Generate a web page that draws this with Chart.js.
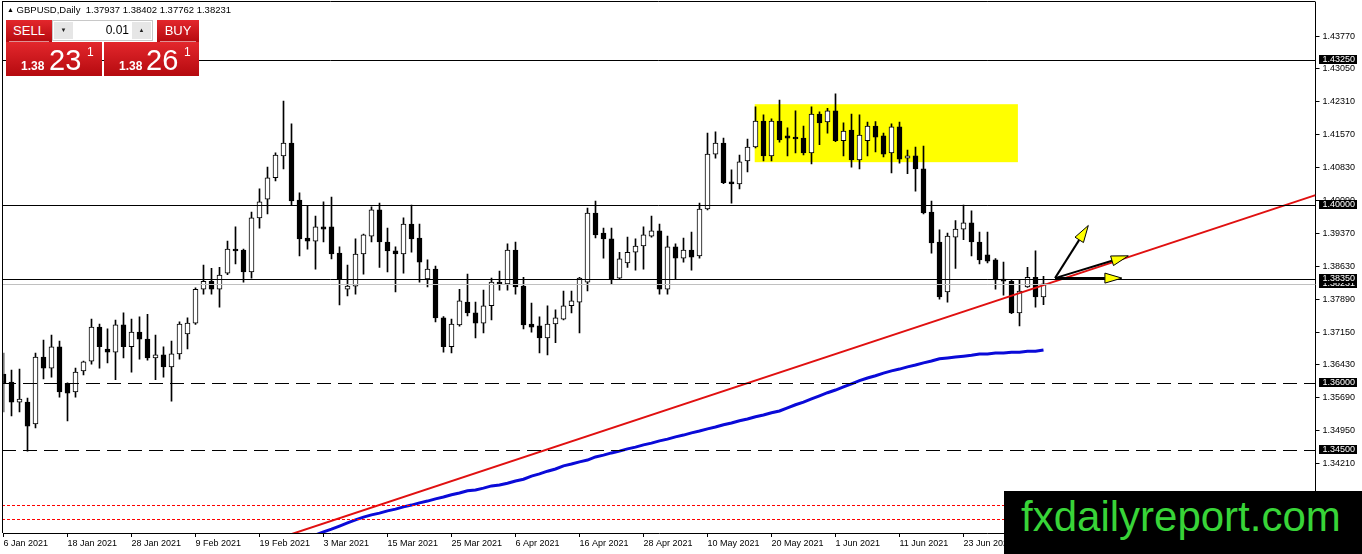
<!DOCTYPE html>
<html>
<head>
<meta charset="utf-8">
<script src="https://cdn.jsdelivr.net/npm/chart.js@4.4.0/dist/chart.umd.min.js"></script>
<style>
body { margin: 0; background: #fff; overflow: hidden; font-family: "Liberation Sans", Arial, sans-serif; }
#wrap { position: relative; width: 1362px; height: 554px; }
#chart { position: absolute; left: 0; top: 0; }
#hdr { position: absolute; left: 7px; top: 4px; font-size: 9.5px; line-height: 12px; color: #000; white-space: pre; }
#hdr .tri { font-size: 7px; vertical-align: 1px; }
.red { position: absolute; background: linear-gradient(#e3272c, #b50a0f); color: #fff; }
.lbl { font-size: 13px; line-height: 22px; text-align: center; height: 22px; top: 20px; }
.lbl .sep { position: absolute; left: 3px; right: 3px; bottom: 0; height: 1px; background: rgba(255,255,255,0.55); }
#sellLbl { left: 6px; width: 46px; }
#buyLbl { left: 157px; width: 42px; }
#spin { position: absolute; left: 52px; top: 20px; width: 101px; height: 21px; background: #fff; border: 1px solid #c8c8c8; box-sizing: border-box; }
#spin .b { position: absolute; top: 1px; width: 19px; height: 17px; background: #e6e6e6; font-size: 6px; line-height: 17px; text-align: center; color: #222; }
#spin .lot { position: absolute; right: 23px; top: 2px; font-size: 12px; line-height: 15px; color: #000; }
.px { top: 42px; width: 96px; height: 34px; }
.px span { position: absolute; white-space: pre; }
.px .sm { font-size: 12px; line-height: 12px; font-weight: bold; top: 18px; left: 15px; }
.px .big { font-size: 29px; line-height: 29px; top: 4px; left: 43px; }
.px .sup { font-size: 12px; line-height: 12px; top: 4px; left: 81px; }
#wm { position: absolute; left: 1004px; top: 491px; width: 358px; height: 63px; background: #000; }
#wm span { position: absolute; left: 17px; top: 5px; font-size: 42px; line-height: 42px; color: #38d438; white-space: pre; }
</style>
</head>
<body>
<div id="wrap">
  <canvas id="chart" width="1362" height="554"></canvas>
  <div id="hdr"><span class="tri">▲</span> GBPUSD,Daily  1.37937 1.38402 1.37762 1.38231</div>
  <div class="red lbl" id="sellLbl">SELL<div class="sep"></div></div>
  <div id="spin"><div class="b" style="left:1px">▼</div><div class="lot">0.01</div><div class="b" style="right:1px">▲</div></div>
  <div class="red lbl" id="buyLbl">BUY<div class="sep"></div></div>
  <div class="red px" style="left:6px"><span class="sm">1.38</span><span class="big">23</span><span class="sup">1</span></div>
  <div class="red px" style="left:104px;width:95px"><span class="sm">1.38</span><span class="big" style="left:42px">26</span><span class="sup" style="left:80px">1</span></div>
  <div id="wm"><span>fxdailyreport.com</span></div>
</div>
<script>
// daily candles, 6 Jan 2021 .. 7 Jul 2021
const opens = [
  1.3621, 1.3603, 1.3558, 1.3558, 1.3509, 1.3659, 1.3634, 1.3682, 1.3600, 1.3581,
  1.3628, 1.3650, 1.3726, 1.3677, 1.3670, 1.3731, 1.3682, 1.3715, 1.3699, 1.3657,
  1.3664, 1.3637, 1.3666, 1.3711, 1.3735, 1.3811, 1.3829, 1.3811, 1.3847, 1.3901,
  1.3899, 1.3850, 1.3971, 1.4013, 1.4061, 1.4110, 1.4139, 1.4011, 1.3926, 1.3919,
  1.3951, 1.3951, 1.3892, 1.3811, 1.3818, 1.3890, 1.3930, 1.3989, 1.3917, 1.3897,
  1.3890, 1.3957, 1.3926, 1.3834, 1.3856, 1.3747, 1.3682, 1.3731, 1.3782, 1.3758,
  1.3735, 1.3774, 1.3827, 1.3823, 1.3899, 1.3818, 1.3733, 1.3729, 1.3702, 1.3733,
  1.3744, 1.3774, 1.3782, 1.3827, 1.3982, 1.3937, 1.3924, 1.3836, 1.3870, 1.3894,
  1.3908, 1.3930, 1.3942, 1.3811, 1.3906, 1.3881, 1.3899, 1.3886, 1.3991, 1.4114,
  1.4139, 1.4052, 1.4047, 1.4099, 1.4130, 1.4188, 1.4110, 1.4188, 1.4155, 1.4152,
  1.4150, 1.4117, 1.4204, 1.4186, 1.4211, 1.4144, 1.4168, 1.4101, 1.4144, 1.4177,
  1.4155, 1.4117, 1.4175, 1.4105, 1.4110, 1.4081, 1.3984, 1.3917, 1.3805, 1.3928,
  1.3946, 1.3960, 1.3917, 1.3888, 1.3877, 1.3834, 1.3829, 1.3758, 1.3816, 1.3838,
  1.37937
];
const highs = [
  1.3668, 1.3630, 1.3632, 1.3567, 1.3668, 1.3697, 1.3708, 1.3695, 1.3601, 1.3634,
  1.3650, 1.3744, 1.3733, 1.3722, 1.3742, 1.3758, 1.3744, 1.3749, 1.3755, 1.3708,
  1.3682, 1.3695, 1.3738, 1.3747, 1.3814, 1.3865, 1.3858, 1.3860, 1.3919, 1.3951,
  1.3901, 1.3984, 1.4036, 1.4085, 1.4117, 1.4233, 1.4182, 1.4027, 1.3998, 1.3975,
  1.4007, 1.4018, 1.3906, 1.3865, 1.3924, 1.3935, 1.3996, 1.4004, 1.3948, 1.3906,
  1.3971, 1.4000, 1.3957, 1.3877, 1.3863, 1.3750, 1.3744, 1.3811, 1.3845, 1.3782,
  1.3809, 1.3836, 1.3852, 1.3913, 1.3917, 1.3838, 1.3780, 1.3749, 1.3774, 1.3765,
  1.3807, 1.3807, 1.3838, 1.3993, 1.4009, 1.3948, 1.3948, 1.3894, 1.3928, 1.3924,
  1.3951, 1.3975, 1.3957, 1.3930, 1.3913, 1.3926, 1.3939, 1.4004, 1.4161, 1.4164,
  1.4150, 1.4079, 1.4112, 1.4148, 1.4220, 1.4202, 1.4193, 1.4235, 1.4173, 1.4211,
  1.4177, 1.4220, 1.4209, 1.4217, 1.4249, 1.4184, 1.4204, 1.4202, 1.4186, 1.4187,
  1.4161, 1.4182, 1.4186, 1.4123, 1.4130, 1.4132, 1.4009, 1.3944, 1.3937, 1.3965,
  1.4000, 1.3987, 1.3939, 1.3939, 1.3880, 1.3872, 1.3832, 1.3832, 1.3860, 1.3897,
  1.38402
];
const lows = [
  1.3536, 1.3527, 1.3536, 1.3448, 1.3500, 1.3610, 1.3614, 1.3569, 1.3516, 1.3569,
  1.3619, 1.3643, 1.3634, 1.3646, 1.3608, 1.3657, 1.3625, 1.3654, 1.3652, 1.3608,
  1.3614, 1.3560, 1.3654, 1.3677, 1.3732, 1.3800, 1.3800, 1.3771, 1.3844, 1.3868,
  1.3827, 1.3836, 1.3948, 1.3980, 1.4054, 1.4081, 1.4000, 1.3886, 1.3901, 1.3856,
  1.3917, 1.3879, 1.3776, 1.3796, 1.3800, 1.3845, 1.3917, 1.3860, 1.3850, 1.3805,
  1.3847, 1.3894, 1.3827, 1.3816, 1.3738, 1.3670, 1.3668, 1.3728, 1.3751, 1.3702,
  1.3713, 1.3742, 1.3809, 1.3809, 1.3800, 1.3722, 1.3715, 1.3668, 1.3664, 1.3691,
  1.3742, 1.3758, 1.3713, 1.3807, 1.3926, 1.3881, 1.3823, 1.3834, 1.3860, 1.3854,
  1.3856, 1.3928, 1.3800, 1.3800, 1.3834, 1.3872, 1.3854, 1.3881, 1.3989, 1.4105,
  1.4048, 1.4004, 1.4036, 1.4074, 1.4128, 1.4099, 1.4099, 1.4141, 1.4110, 1.4117,
  1.4112, 1.4092, 1.4135, 1.4161, 1.4142, 1.4110, 1.4085, 1.4081, 1.4110, 1.4119,
  1.4108, 1.4072, 1.4094, 1.4070, 1.4031, 1.3980, 1.3892, 1.3789, 1.3782, 1.3858,
  1.3922, 1.3886, 1.3868, 1.3870, 1.3811, 1.3798, 1.3756, 1.3729, 1.3815, 1.3771,
  1.37762
];
const closes = [
  1.3601, 1.3558, 1.3565, 1.3504, 1.3659, 1.3634, 1.3682, 1.3581, 1.3578, 1.3625,
  1.3648, 1.3726, 1.3682, 1.3670, 1.3731, 1.3682, 1.3715, 1.3699, 1.3657, 1.3664,
  1.3637, 1.3666, 1.3733, 1.3735, 1.3811, 1.3829, 1.3811, 1.3843, 1.3901, 1.3897,
  1.3850, 1.3971, 1.4007, 1.4061, 1.4112, 1.4139, 1.4009, 1.3924, 1.3919, 1.3951,
  1.3946, 1.3890, 1.3834, 1.3818, 1.3890, 1.3933, 1.3989, 1.3917, 1.3897, 1.3890,
  1.3957, 1.3924, 1.3872, 1.3856, 1.3747, 1.3682, 1.3733, 1.3785, 1.3758, 1.3735,
  1.3774, 1.3827, 1.3823, 1.3899, 1.3816, 1.3731, 1.3726, 1.3702, 1.3733, 1.3747,
  1.3774, 1.3785, 1.3836, 1.3982, 1.3933, 1.3924, 1.3834, 1.3879, 1.3894, 1.3908,
  1.3933, 1.3942, 1.3811, 1.3906, 1.3881, 1.3899, 1.3883, 1.3991, 1.4114, 1.4139,
  1.4050, 1.4047, 1.4097, 1.4130, 1.4188, 1.4110, 1.4188, 1.4146, 1.4150, 1.4148,
  1.4117, 1.4204, 1.4184, 1.4211, 1.4144, 1.4166, 1.4101, 1.4157, 1.4177, 1.4152,
  1.4114, 1.4175, 1.4103, 1.4110, 1.4081, 1.3982, 1.3915, 1.3794, 1.3930, 1.3946,
  1.3960, 1.3917, 1.3877, 1.3874, 1.3832, 1.3829, 1.3758, 1.3807, 1.3838, 1.3794,
  1.38231
];

// moving average, starts at bar 39
const maStart = 39;
const maValues = [
  1.3260, 1.3267, 1.3273, 1.3280, 1.3287, 1.3294, 1.3300, 1.3305, 1.3309, 1.3314,
  1.3318, 1.3323, 1.3327, 1.3332, 1.3336, 1.3341, 1.3345, 1.3350, 1.3354, 1.3359,
  1.3361, 1.3365, 1.3370, 1.3372, 1.3376, 1.3381, 1.3385, 1.3392, 1.3397, 1.3403,
  1.3408, 1.3415, 1.3419, 1.3424, 1.3428, 1.3435, 1.3439, 1.3444, 1.3448, 1.3453,
  1.3457, 1.3462, 1.3466, 1.3471, 1.3475, 1.3480, 1.3484, 1.3489, 1.3493, 1.3498,
  1.3502, 1.3507, 1.3511, 1.3516, 1.3520, 1.3525, 1.3529, 1.3534, 1.3538, 1.3545,
  1.3552, 1.3558, 1.3565, 1.3572, 1.3579, 1.3585, 1.3592, 1.3599, 1.3606, 1.3612,
  1.3617, 1.3623, 1.3628, 1.3632, 1.3637, 1.3641, 1.3646, 1.3650, 1.3655, 1.3657,
  1.3659, 1.3661, 1.3663, 1.3666, 1.3666, 1.3668, 1.3668, 1.3670, 1.3670, 1.3672,
  1.3672, 1.3675
];

// trend line anchors (bar index, price)
const trendBars = [36, 164];
const trendPrices = [1.3262, 1.4022];

const dateLabels = ['6 Jan 2021', '18 Jan 2021', '28 Jan 2021', '9 Feb 2021', '19 Feb 2021',
  '3 Mar 2021', '15 Mar 2021', '25 Mar 2021', '6 Apr 2021', '16 Apr 2021', '28 Apr 2021',
  '10 May 2021', '20 May 2021', '1 Jun 2021', '11 Jun 2021', '23 Jun 2021'];
const labelStep = 8;
const slotCount = 165;

const priceTicks = [1.43770, 1.43050, 1.42310, 1.41570, 1.40830, 1.40090, 1.39370, 1.38630,
  1.37890, 1.37150, 1.36430, 1.35690, 1.34950, 1.34210, 1.33470, 1.32730];

const solidLevels = [1.43250, 1.40000, 1.38350];
const bidPrice = 1.38231;
const dashedLevels = [1.36000, 1.34500];
const dottedLevels = [1.33272, 1.32951];
const markedLevels = [1.43250, 1.40000, 1.38231, 1.38350, 1.36000, 1.34500];

// yellow box: bars / prices
const zoneBars = [93.9, 126.8];
const zonePrices = [1.4096, 1.4226];

// arrows: start point, then tips (bar, price)
const arrowFrom = [131.44, 1.3836];
const arrowTips = [[135.6, 1.3954], [140.6, 1.3886], [139.8, 1.3836]];

document.addEventListener('DOMContentLoaded', () => {
    const slots = Array.from({ length: slotCount }, (_, i) => i);
    const wickData = highs.map((h, i) => [lows[i], h]);
    const bodyData = opens.map((o, i) => [o, closes[i]]);
    const bodyColors = opens.map((o, i) => closes[i] >= o ? '#ffffff' : '#000000');
    const maData = slots.map(i => (i >= maStart && i - maStart < maValues.length) ? maValues[i - maStart] : null);
    const trendData = slots.map(i => {
        const k = trendBars.indexOf(i);
        return k >= 0 ? trendPrices[k] : null;
    });

    const levelsPlugin = {
        id: 'levels',
        beforeDatasetsDraw(chart) {
            const { ctx, scales: { x, y } } = chart;
            ctx.save();
            // yellow zone
            const zx1 = x.getPixelForValue(zoneBars[0]);
            const zx2 = x.getPixelForValue(zoneBars[1]);
            const zy1 = y.getPixelForValue(zonePrices[1]);
            const zy2 = y.getPixelForValue(zonePrices[0]);
            ctx.fillStyle = '#ffff00';
            ctx.fillRect(zx1, zy1, zx2 - zx1, zy2 - zy1);
            ctx.restore();
        },
        afterDatasetsDraw(chart) {
            const { ctx, chartArea: a, scales: { x, y } } = chart;
            const hline = (v, color, dash) => {
                const py = Math.round(y.getPixelForValue(v)) + 0.5;
                ctx.beginPath();
                ctx.setLineDash(dash);
                ctx.strokeStyle = color;
                ctx.lineWidth = 1;
                ctx.moveTo(2, py);
                ctx.lineTo(a.right, py);
                ctx.stroke();
            };
            ctx.save();
            dottedLevels.forEach(v => hline(v, '#ff0000', [3, 2]));
            dashedLevels.forEach(v => hline(v, '#000', [14, 7]));
            hline(bidPrice, '#c0c0c0', []);
            solidLevels.forEach(v => hline(v, '#000', []));
            ctx.setLineDash([]);

            // arrows
            const x0 = x.getPixelForValue(arrowFrom[0]);
            const y0 = y.getPixelForValue(arrowFrom[1]);
            arrowTips.forEach(t => {
                const x2 = x.getPixelForValue(t[0]);
                const y2 = y.getPixelForValue(t[1]);
                const ang = Math.atan2(y2 - y0, x2 - x0);
                const hl = 17, hw = 5;
                const bx = x2 - hl * Math.cos(ang), by = y2 - hl * Math.sin(ang);
                ctx.beginPath();
                ctx.strokeStyle = '#000';
                ctx.lineWidth = 2;
                ctx.moveTo(x0, y0);
                ctx.lineTo(bx, by);
                ctx.stroke();
                ctx.beginPath();
                ctx.moveTo(x2, y2);
                ctx.lineTo(bx + hw * Math.sin(ang), by - hw * Math.cos(ang));
                ctx.lineTo(bx - hw * Math.sin(ang), by + hw * Math.cos(ang));
                ctx.closePath();
                ctx.fillStyle = '#ffff00';
                ctx.fill();
                ctx.lineWidth = 1;
                ctx.stroke();
            });
            ctx.restore();
        },
        afterDraw(chart) {
            const { ctx, chartArea: a, scales: { y } } = chart;
            ctx.save();
            // frame
            ctx.strokeStyle = '#000';
            ctx.lineWidth = 1;
            ctx.beginPath();
            ctx.moveTo(2.5, 1);
            ctx.lineTo(2.5, a.bottom);
            ctx.moveTo(2, 1.5);
            ctx.lineTo(a.right, 1.5);
            ctx.stroke();
            // marked prices on the axis
            ctx.font = '9px "Liberation Sans", Arial, sans-serif';
            ctx.textBaseline = 'middle';
            markedLevels.forEach(v => {
                const py = Math.round(y.getPixelForValue(v));
                ctx.fillStyle = '#000';
                ctx.fillRect(1319, py - 5, 38, 9);
                ctx.fillStyle = '#fff';
                ctx.fillText(v.toFixed(5), 1322.5, py);
            });
            ctx.restore();
        }
    };

    const ctx = document.getElementById('chart').getContext('2d');
    new Chart(ctx, {
        type: 'bar',
        data: {
            labels: slots,
            datasets: [
                {
                    type: 'line',
                    data: trendData,
                    borderColor: '#e01010',
                    borderWidth: 2,
                    pointRadius: 0,
                    spanGaps: true,
                    clip: 0,
                    order: 0
                },
                {
                    data: bodyData,
                    backgroundColor: bodyColors,
                    borderColor: '#000',
                    borderWidth: 1,
                    borderSkipped: false,
                    barThickness: 5,
                    minBarLength: 1,
                    grouped: false,
                    order: 1
                },
                {
                    data: wickData,
                    backgroundColor: '#000',
                    borderWidth: 0,
                    barThickness: 1,
                    grouped: false,
                    order: 2
                },
                {
                    type: 'line',
                    data: maData,
                    borderColor: '#0a0ad8',
                    borderWidth: 3,
                    pointRadius: 0,
                    clip: 0,
                    order: 3
                }
            ]
        },
        options: {
            responsive: false,
            animation: false,
            devicePixelRatio: 1,
            layout: { padding: { left: 3.5, top: 2, right: 0, bottom: 0 } },
            plugins: {
                legend: { display: false },
                tooltip: { enabled: false }
            },
            scales: {
                x: {
                    type: 'category',
                    offset: false,
                    grid: {
                        offset: false,
                        drawOnChartArea: false,
                        tickLength: 4,
                        color: '#000'
                    },
                    border: { color: '#000' },
                    ticks: {
                        autoSkip: false,
                        maxRotation: 0,
                        align: 'start',
                        padding: 1,
                        color: '#000',
                        font: { family: '"Liberation Sans", Arial, sans-serif', size: 9 },
                        callback: (value, index) => {
                            if (index % labelStep !== 0) return null;
                            const lbl = dateLabels[index / labelStep];
                            return lbl === undefined ? null : lbl;
                        }
                    },
                    afterFit: (scale) => {
                        scale.height = 21;
                        scale.paddingLeft = 0;
                        scale.paddingRight = 0;
                    }
                },
                y: {
                    type: 'linear',
                    position: 'right',
                    min: 1.32644,
                    max: 1.44552,
                    afterBuildTicks: (scale) => {
                        scale.ticks = priceTicks.map(v => ({ value: v }));
                    },
                    grid: {
                        drawOnChartArea: false,
                        tickLength: 4,
                        color: '#000'
                    },
                    border: { color: '#000' },
                    ticks: {
                        autoSkip: false,
                        padding: 3,
                        color: '#000',
                        font: { family: '"Liberation Sans", Arial, sans-serif', size: 9 },
                        callback: (v) => Number(v).toFixed(5)
                    },
                    afterFit: (scale) => {
                        scale.width = 46.5;
                        scale.paddingTop = 0;
                        scale.paddingBottom = 0;
                    }
                }
            }
        },
        plugins: [levelsPlugin]
    });
});
</script>
</body>
</html>
